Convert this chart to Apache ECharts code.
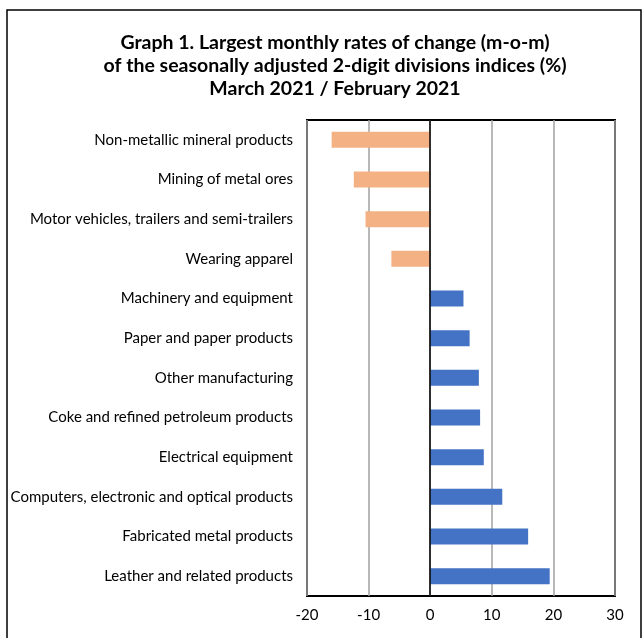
<!DOCTYPE html>
<html>
<head>
<meta charset="utf-8">
<script src="https://cdn.jsdelivr.net/npm/echarts@6/dist/echarts.min.js"></script>
<style>html,body{margin:0;padding:0;background:#fff;}#c{width:643px;height:638px;}</style>
</head>
<body>
<div id="c"></div>
<script>
const categories = [
  "Non-metallic mineral products",
  "Mining of metal ores",
  "Motor vehicles, trailers and semi-trailers",
  "Wearing apparel",
  "Machinery and equipment",
  "Paper and paper products",
  "Other manufacturing",
  "Coke and refined petroleum products",
  "Electrical equipment",
  "Computers, electronic and optical products",
  "Fabricated metal products",
  "Leather and related products"
];
const values = [-16.0, -12.4, -10.5, -6.3, 5.4, 6.4, 7.9, 8.1, 8.7, 11.7, 15.9, 19.4];
const xTicks = { min: -20, max: 30, interval: 10 };
const titleLines = [
  "Graph 1. Largest monthly rates of change (m-o-m)",
  "of the seasonally adjusted 2-digit divisions indices (%)",
  "March 2021 / February 2021"
];

const FONT = "Lato, 'Open Sans', sans-serif";
const chart = echarts.init(document.getElementById('c'));
chart.setOption({
  animation: false,
  backgroundColor: '#fff',
  textStyle: { fontFamily: FONT },
  graphic: [
    { type: 'rect', shape: { x: 7, y: 10, width: 634, height: 640 }, style: { fill: 'none', stroke: '#000', lineWidth: 1.5 }, z: 0 },
    { type: 'text', x: 335, y: 31, style: { text: titleLines.join('\n'), align: 'center', verticalAlign: 'top', font: "bold 19.5px " + FONT, lineHeight: 23, fill: '#000' } }
  ],
  grid: { left: 307, right: 28, top: 120, bottom: 42, show: true, borderColor: '#000', borderWidth: 2, backgroundColor: 'transparent' },
  xAxis: {
    type: 'value', min: xTicks.min, max: xTicks.max, interval: xTicks.interval,
    axisLine: { show: false }, axisTick: { show: false },
    axisLabel: { color: '#000', fontSize: 15, margin: 12, fontFamily: FONT },
    splitLine: { show: true, lineStyle: { color: '#a0a0a0', width: 1.5 } }
  },
  yAxis: {
    type: 'category', data: categories, inverse: true,
    axisLine: { show: false }, axisTick: { show: false },
    axisLabel: { color: '#000', fontSize: 15, margin: 14, fontFamily: FONT }
  },
  series: [{
    type: 'bar', data: values, barWidth: 16,
    itemStyle: { color: p => p.value < 0 ? '#F4B183' : '#4472C4' },
    markLine: { silent: true, symbol: 'none', label: { show: false }, lineStyle: { color: '#000', type: 'solid', width: 1.5 }, data: [{ xAxis: 0 }] }
  }]
});
</script>
</body>
</html>
